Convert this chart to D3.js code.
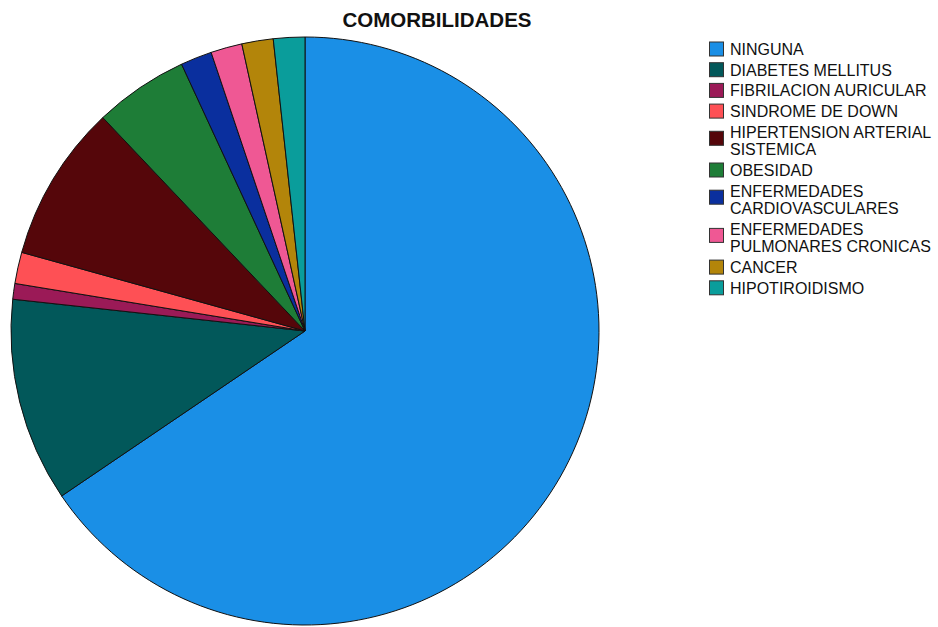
<!DOCTYPE html>
<html>
<head>
<meta charset="utf-8">
<script src="https://cdn.jsdelivr.net/npm/d3@7"></script>
<style>
  body { margin: 0; background: #fff; }
  text { font-family: "Liberation Sans", Arial, sans-serif; }
</style>
</head>
<body>
<div id="chart"></div>
<script>
// categories, counts and colours
const categories = ["NINGUNA", "DIABETES MELLITUS", "FIBRILACION AURICULAR", "SINDROME DE DOWN",
  "HIPERTENSION ARTERIAL SISTEMICA", "OBESIDAD", "ENFERMEDADES CARDIOVASCULARES",
  "ENFERMEDADES PULMONARES CRONICAS", "CANCER", "HIPOTIROIDISMO"];
const counts = [76, 13, 1, 2, 10, 6, 2, 2, 2, 2];
const colors = ["#1a8fe6", "#02585a", "#9b1a57", "#fe5055", "#55060a",
  "#1e7d37", "#0a2f9e", "#ef5894", "#b3850a", "#0a9d9b"];
// legend labels as they wrap in the reference
const legendLines = [["NINGUNA"], ["DIABETES MELLITUS"], ["FIBRILACION AURICULAR"], ["SINDROME DE DOWN"],
  ["HIPERTENSION ARTERIAL", "SISTEMICA"], ["OBESIDAD"], ["ENFERMEDADES", "CARDIOVASCULARES"],
  ["ENFERMEDADES", "PULMONARES CRONICAS"], ["CANCER"], ["HIPOTIROIDISMO"]];
const title = "COMORBILIDADES";

const width = 938, height = 627;
const cx = 305, cy = 331, radius = 294;

const svg = d3.select("#chart").append("svg")
  .attr("width", width)
  .attr("height", height);

svg.append("text")
  .attr("x", 437)
  .attr("y", 27)
  .attr("text-anchor", "middle")
  .attr("font-size", 20.5)
  .attr("font-weight", "bold")
  .attr("fill", "#111")
  .text(title);

const data = categories.map((c, i) => ({name: c, value: counts[i], color: colors[i]}));

// pie starts at 12 o'clock, goes clockwise, keeps data order
const pie = d3.pie().sort(null).value(d => d.value);
const arc = d3.arc().innerRadius(0).outerRadius(radius);

svg.append("g")
  .attr("transform", `translate(${cx},${cy})`)
  .selectAll("path")
  .data(pie(data))
  .join("path")
  .attr("d", arc)
  .attr("fill", d => d.data.color)
  .attr("stroke", "#111")
  .attr("stroke-width", 1)
  .attr("stroke-linejoin", "round");

// ============================
// Legend
// ============================
const lineH = 17.5, gap = 3.2;
const legend = svg.append("g").attr("transform", "translate(709,0)");
let baseline = 55;
legendLines.forEach((lines, i) => {
  const g = legend.append("g");
  const swCenter = baseline - 6 + (lines.length - 1) * 6.5;
  g.append("rect")
    .attr("x", 0.5)
    .attr("y", swCenter - 7)
    .attr("width", 14)
    .attr("height", 14)
    .attr("fill", colors[i])
    .attr("stroke", "#333")
    .attr("stroke-width", 1);
  lines.forEach((t, j) => {
    g.append("text")
      .attr("x", 21)
      .attr("y", baseline + j * lineH)
      .attr("font-size", 16)
      .attr("fill", "#111")
      .text(t);
  });
  baseline += lines.length * lineH + gap;
});
</script>
</body>
</html>
